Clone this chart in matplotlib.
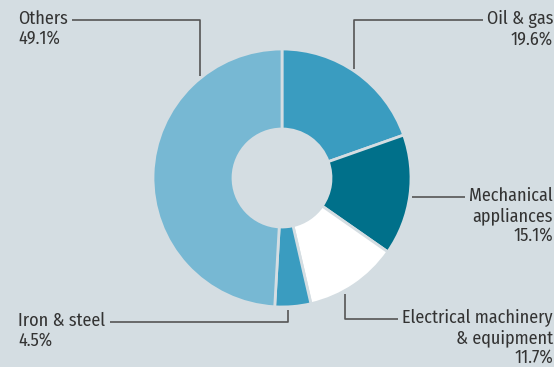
import numpy as np
import matplotlib
matplotlib.use("Agg")
from matplotlib import pyplot as plt

plt.rcParams['font.family'] = ['Fira Sans Condensed', 'DejaVu Sans']

sectors = ["Oil & gas", "Mechanical\nappliances", "Electrical machinery\n& equipment",
           "Iron & steel", "Others"]
shares = [19.6, 15.1, 11.7, 4.5, 49.1]
colors = ["#3a9cc0", "#00708a", "#ffffff", "#3a9cc0", "#77b8d3"]
bg = "#d4dde2"

W, H = 554, 367
fig = plt.figure(figsize=(W / 100, H / 100), dpi=100, facecolor=bg)
ax = fig.add_axes([0, 0, 1, 1])
ax.set_facecolor(bg)

cx, cy, R = 282, H - 178, 129
ax.pie(shares, colors=colors, startangle=90, counterclock=False,
       center=(cx, cy), radius=R,
       wedgeprops=dict(width=R - 49, edgecolor=bg, linewidth=2))
ax.set_xlim(0, W)
ax.set_ylim(0, H)
ax.set_aspect('equal')
ax.axis('off')

def yp(y):
    return H - y

def edge_y(x, upper):
    # point on the outer rim of the ring straight above/below x
    d = np.sqrt(max(R ** 2 - (x - cx) ** 2, 0))
    return cy + d if upper else cy - d

txt = dict(fontsize=13, color="#333333", linespacing=1.15)
lc = dict(color="#555555", lw=1.2, solid_capstyle="butt")
xr = 553

# Others (top left)
ax.plot([72, 200, 200], [yp(20), yp(20), edge_y(200, True) + 2], **lc)
ax.text(18, yp(10), sectors[4] + "\n" + f"{shares[4]}%", ha="left", va="top", **txt)

# Oil & gas (top right)
ax.plot([483, 354, 354], [yp(20), yp(20), edge_y(354, True) + 2], **lc)
ax.text(xr, yp(10), sectors[0] + "\n" + f"{shares[0]}%", ha="right", va="top",
        multialignment="right", **txt)

# Mechanical appliances (right)
ax.plot([412, 465], [yp(197), yp(197)], **lc)
ax.text(xr, yp(187), sectors[1] + "\n" + f"{shares[1]}%", ha="right", va="top",
        multialignment="right", **txt)

# Electrical machinery (bottom right)
ax.plot([345, 345, 398], [edge_y(345, False) - 3, yp(319), yp(319)], **lc)
ax.text(xr, yp(309), sectors[2] + "\n" + f"{shares[2]}%", ha="right", va="top",
        multialignment="right", **txt)

# Iron & steel (bottom left)
ax.plot([110, 288, 288], [yp(322), yp(322), edge_y(288, False) - 3], **lc)
ax.text(18, yp(312), sectors[3] + "\n" + f"{shares[3]}%", ha="left", va="top", **txt)

fig.savefig("out.png", dpi=100, facecolor=bg)
